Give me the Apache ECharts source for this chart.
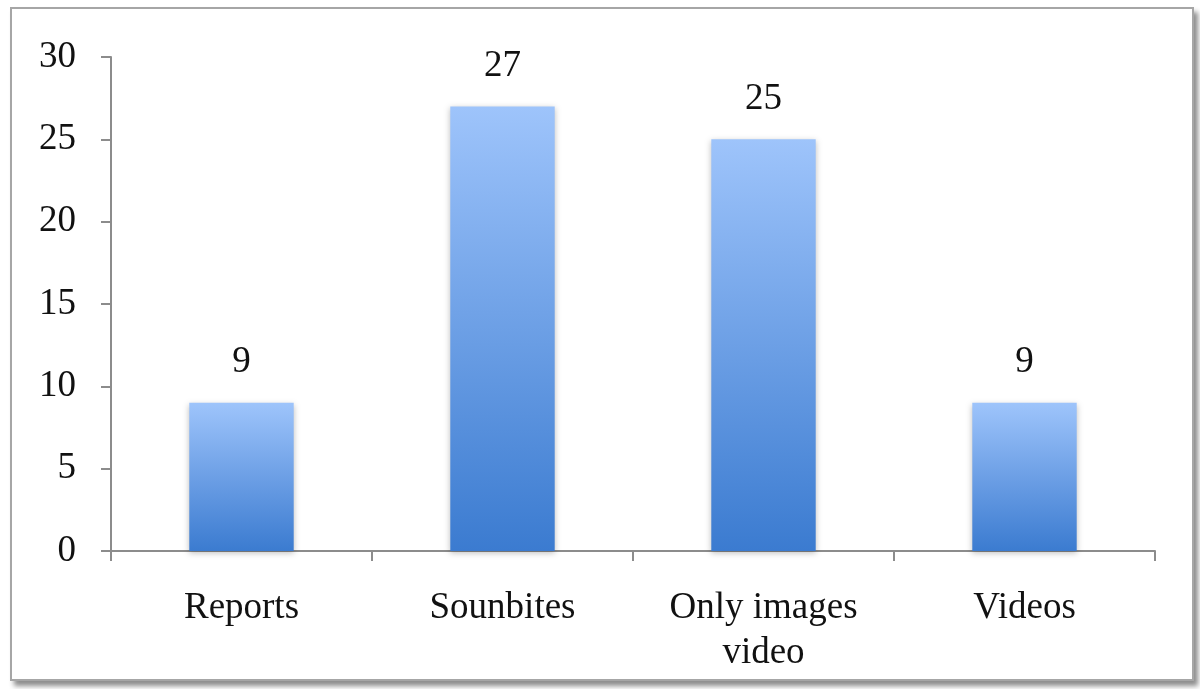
<!DOCTYPE html>
<html>
<head>
<meta charset="utf-8">
<script src="https://cdn.jsdelivr.net/npm/echarts@6/dist/echarts.min.js"></script>
<style>
	html, body { margin: 0; padding: 0; background: #fff; }
	.frame {
		position: absolute;
		left: 10px; top: 7px;
		width: 1180px; height: 670px;
		border: 2px solid #a6a6a6;
		box-shadow: 4px 5px 5px rgba(0,0,0,0.45);
		background: #fff;
	}
	#chart { position: absolute; left: 0; top: 0; width: 1200px; height: 689px; }
</style>
</head>
<body>
<div class="frame"></div>
<div id="chart"></div>
<script>
	// categories and values
	var categories = ['Reports', 'Sounbites', 'Only images\nvideo', 'Videos'];
	var values = [9, 27, 25, 9];

	var myChart = echarts.init(document.getElementById('chart'));
	var font = '"Liberation Serif", serif';

	var option = {
		animation: false,
		grid: {
			left: 111,
			right: 45,
			top: 57,
			bottom: 138
		},
		xAxis: {
			type: 'category',
			data: categories,
			axisLine: { lineStyle: { color: '#8c8c8c', width: 2 } },
			axisTick: { show: true, length: 10, lineStyle: { color: '#8c8c8c', width: 2 } },
			axisLabel: {
				margin: 35,
				color: '#111',
				fontFamily: font,
				fontSize: 37,
				lineHeight: 45
			}
		},
		yAxis: {
			type: 'value',
			min: 0,
			max: 30,
			interval: 5,
			splitLine: { show: false },
			axisLine: { show: true, lineStyle: { color: '#8c8c8c', width: 2 } },
			axisTick: { show: true, length: 10, lineStyle: { color: '#8c8c8c', width: 2 } },
			axisLabel: {
				margin: 35,
				color: '#111',
				fontFamily: font,
				fontSize: 37
			}
		},
		series: [{
			type: 'bar',
			data: values,
			barWidth: '40%',
			itemStyle: {
				color: new echarts.graphic.LinearGradient(0, 0, 0, 1, [
					{ offset: 0, color: '#9ec4fb' },
					{ offset: 1, color: '#3b7bd0' }
				]),
				shadowColor: 'rgba(0,0,0,0.25)',
				shadowBlur: 6,
				shadowOffsetY: 2
			},
			label: {
				show: true,
				position: 'top',
				distance: 22,
				color: '#111',
				fontFamily: font,
				fontSize: 37
			}
		}]
	};
	myChart.setOption(option);
</script>
</body>
</html>
